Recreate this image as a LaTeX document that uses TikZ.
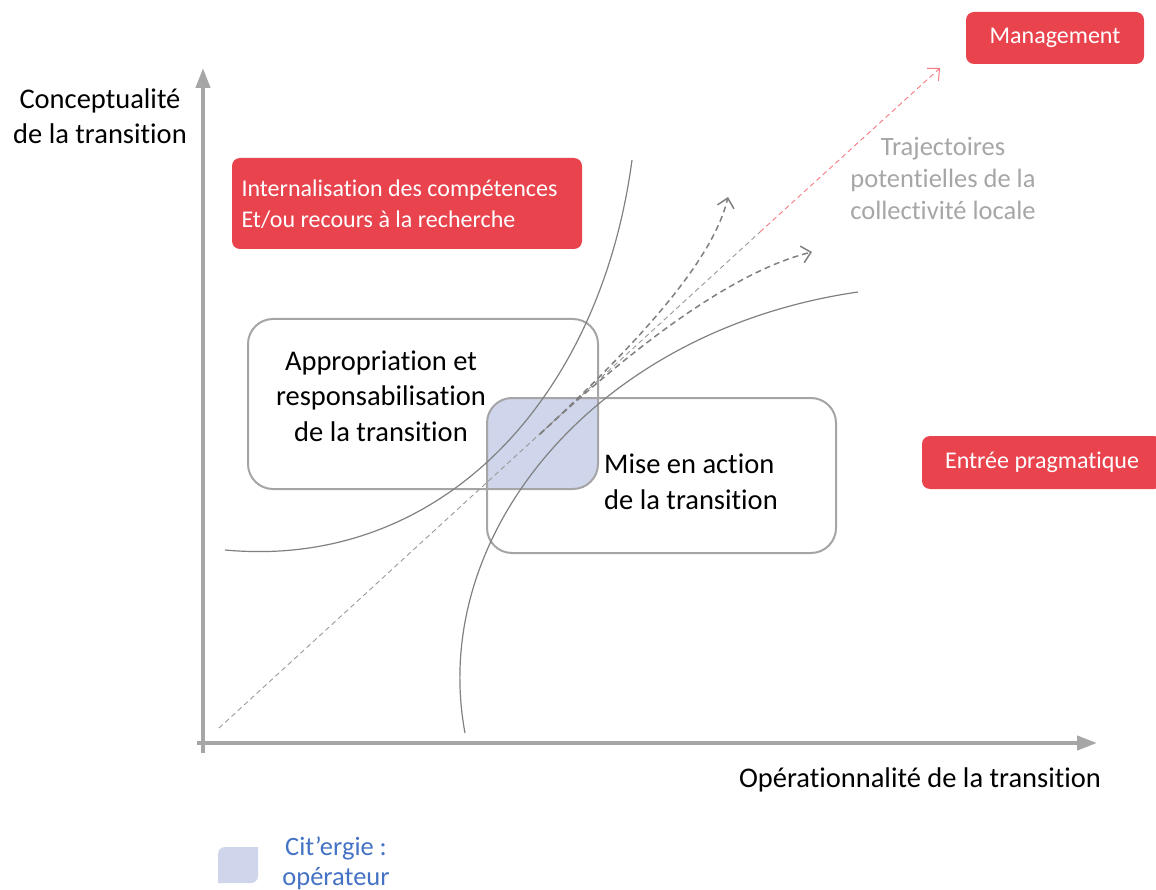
\documentclass[tikz,border=0pt]{standalone}
\usepackage{fontspec}
\setmainfont{Carlito}[Ligatures=NoCommon]
\usetikzlibrary{arrows.meta}
\definecolor{redfill}{HTML}{E9444E}
\definecolor{axisgray}{HTML}{A6A6A6}
\definecolor{boxgray}{HTML}{A5A5A5}
\definecolor{curvegray}{HTML}{808080}
\definecolor{overlapblue}{HTML}{CFD5EA}
\definecolor{legendblue}{HTML}{4472C4}
\definecolor{trajred}{HTML}{F4787E}
\tikzset{
  zonebox/.style={draw=boxgray, line width=2pt, rounded corners=25pt, inner sep=0pt},
  redbox/.style={fill=redfill, rounded corners=8pt, text=white, inner sep=0pt, font=\fontsize{24}{31}\selectfont},
  blacktext/.style={align=center, font=\fontsize{28.5}{35.5}\selectfont},
  axis/.style={draw=axisgray, line width=4pt, -{Triangle[length=20pt,width=14pt]}},
  curve/.style={draw=curvegray, line width=1.2pt},
  trajline/.style={draw=curvegray!80, line width=0.9pt, dash pattern=on 5pt off 3.5pt},
  trajarrow/.style={draw=curvegray, line width=1.5pt, dash pattern=on 6pt off 4pt, -{Straight Barb[length=9pt,width=17pt,line width=1.5pt]}}
}
\begin{document}
\begin{tikzpicture}[x=1pt,y=-1pt]
\useasboundingbox (0,0) rectangle (1156,890);
% zone shared by both boxes
\begin{scope}
\clip[rounded corners=25pt] (248,319) rectangle (598,489);
\fill[overlapblue, rounded corners=25pt] (487,398) rectangle (836,553);
\end{scope}
\node[zonebox, minimum width=350pt, minimum height=170pt] (appro) at (423,404) {};
\node[zonebox, minimum width=349pt, minimum height=155pt] (action) at (661.5,475.5) {};
\node[blacktext] (approtext) at (381,396) {Appropriation et\\responsabilisation\\de la transition};
\node[blacktext, align=left] (actiontext) at (691,482) {Mise en action\\de la transition};
% axes
\coordinate (xstart) at (197,743);
\coordinate (xend) at (1097,743);
\coordinate (ystart) at (203,753);
\coordinate (yend) at (203,68);
\draw[axis] (xstart) -- (xend);
\draw[axis] (ystart) -- (yend);
\node[blacktext] (ylabel) at (100,116) {Conceptualité\\de la transition};
\node[blacktext] (xlabel) at (920,780) {Opérationnalité de la transition};
% curves
\draw[curve] (225,550) .. controls (440,570) and (600,400) .. (632,160);
\draw[curve] (465,733) .. controls (428,535) and (595,330) .. (858,292);
% trajectories
\coordinate (origin) at (219,728);
\coordinate (split) at (760,232);
\coordinate (branch) at (540,434);
\coordinate (tipup) at (728,197);
\coordinate (tipright) at (812,252);
\node[redbox, minimum width=178pt, minimum height=52pt] (mgmt) at (1055,38) {Management};
\coordinate (mgmttip) at (940,68);
\draw[trajline] (origin) -- (split);
\draw[trajline, draw=trajred, -{Straight Barb[length=9pt,width=17pt,line width=1pt]}] (split) -- (mgmttip);
\draw[trajarrow] (branch) .. controls (628,352) and (712,265) .. (tipup);
\draw[trajarrow] (branch) .. controls (628,352) and (730,272) .. (tipright);
\node[align=center, text=axisgray, font=\fontsize{26.5}{32}\selectfont] (trajtext) at (943,178) {Trajectoires\\potentielles de la\\collectivité locale};
% red boxes
\node[redbox, minimum width=350pt, minimum height=91pt] (intern) at (407,203.5) {};
\node[anchor=west, align=left, text=white, font=\fontsize{24}{31}\selectfont] (interntext) at (238,204) {Internalisation des compétences\\Et/ou recours à la recherche};
\node[redbox, minimum width=240pt, minimum height=53pt] (pragma) at (1042,462.5) {Entrée pragmatique};
% legend
\begin{scope}
\clip[rounded corners=7pt] (218,847) rectangle (290,915);
\fill[overlapblue, rounded corners=7pt] (186,815) rectangle (258,883);
\end{scope}
\node[align=center, text=legendblue, font=\fontsize{26.5}{30}\selectfont] (citergie) at (336,863) {Cit’ergie :\\opérateur};
\end{tikzpicture}
\end{document}
